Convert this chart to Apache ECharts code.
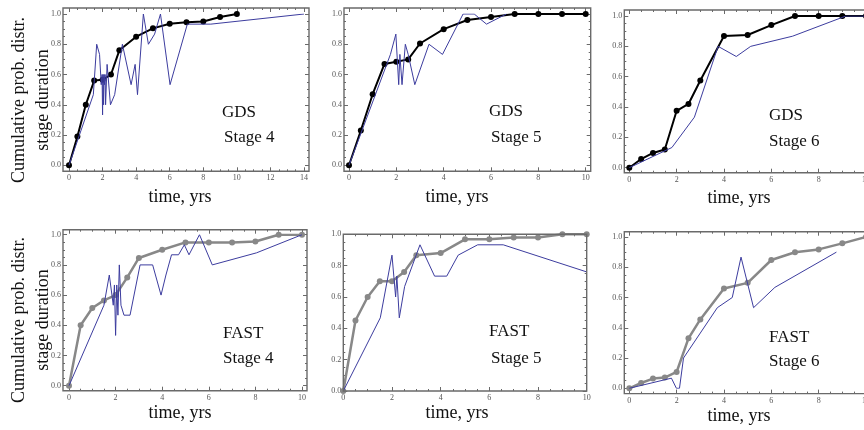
<!DOCTYPE html>
<html>
<head>
<meta charset="utf-8">
<script src="https://cdn.jsdelivr.net/npm/echarts@6/dist/echarts.min.js"></script>
<style>
  html, body { margin: 0; background: #fff; }
  #chart { width: 864px; height: 430px; }
</style>
</head>
<body>
<div id="chart"></div>
<script>
// model curves, sampled every half year up to 3, then yearly
const modelYears = [0, 0.5, 1, 1.5, 2, 2.5, 3, 4, 5, 6, 7, 8, 9, 10];
const gds4Model = [0, 0.19, 0.40, 0.56, 0.565, 0.60, 0.76, 0.85, 0.905, 0.935, 0.945, 0.95, 0.98, 1.0];
const gds5Model = [0, 0.23, 0.47, 0.67, 0.685, 0.70, 0.805, 0.90, 0.96, 0.98, 1.0, 1.0, 1.0, 1.0];
const gds6Model = [0, 0.057, 0.097, 0.12, 0.375, 0.42, 0.575, 0.868, 0.875, 0.94, 1.0, 1.0, 1.0, 1.0];
const fast4Model = [0, 0.40, 0.515, 0.565, 0.60, 0.717, 0.846, 0.90, 0.949, 0.949, 0.949, 0.955, 1.0, 1.0];
const fast5Model = [0, 0.45, 0.60, 0.70, 0.70, 0.76, 0.866, 0.88, 0.968, 0.968, 0.98, 0.98, 1.0, 1.0];
const fast6Model = [0, 0.035, 0.064, 0.071, 0.108, 0.33, 0.455, 0.66, 0.697, 0.848, 0.899, 0.918, 0.958, 1.0];

// observed (empirical) curves
const gds4ObsYears = [0, 1.45, 1.65, 1.82, 1.92, 1.97, 2.0, 2.03, 2.06, 2.09, 2.12, 2.15, 2.18, 2.27, 2.47, 2.72, 3.18, 3.7, 3.94, 4.08, 4.43, 4.73, 5.1, 5.45, 6.02, 7.05, 8.45, 14];
const gds4ObsProb = [0, 0.467, 0.8, 0.733, 0.533, 0.6, 0.333, 0.6, 0.4, 0.6, 0.533, 0.6, 0.4, 0.667, 0.4, 0.467, 0.8, 0.533, 0.667, 0.467, 1.0, 0.8, 0.867, 1.0, 0.533, 0.933, 0.933, 1.0];
const gds5ObsYears = [0, 1.75, 1.98, 2.1, 2.15, 2.24, 2.38, 2.5, 2.78, 3.38, 3.95, 4.82, 5.29, 5.81, 6.65];
const gds5ObsProb = [0, 0.733, 0.867, 0.533, 0.733, 0.533, 0.8, 0.733, 0.533, 0.8, 0.733, 1.0, 1.0, 0.933, 1.0];
const gds6ObsYears = [0, 1.8, 2.75, 3.75, 4.52, 5.13, 6.9, 9.15, 10];
const gds6ObsProb = [0, 0.133, 0.333, 0.8, 0.733, 0.8, 0.867, 1.0, 1.0];
const fast4ObsYears = [0, 1.5, 1.73, 1.9, 1.95, 2.0, 2.05, 2.1, 2.16, 2.23, 2.36, 2.62, 3.05, 3.59, 3.95, 4.16, 4.4, 4.7, 4.95, 5.15, 5.6, 6.15, 8.05, 10];
const fast4ObsProb = [0, 0.533, 0.733, 0.533, 0.667, 0.333, 0.667, 0.467, 0.8, 0.533, 0.467, 0.467, 0.8, 0.8, 0.6, 0.733, 0.867, 0.867, 0.933, 0.867, 1.0, 0.8, 0.88, 1.0];
const fast5ObsYears = [0, 1.52, 2.0, 2.15, 2.2, 2.3, 2.52, 3.15, 3.75, 4.25, 4.72, 5.52, 6.57, 10];
const fast5ObsProb = [0, 0.467, 0.867, 0.6, 0.733, 0.467, 0.667, 0.933, 0.733, 0.733, 0.867, 0.933, 0.933, 0.76];
const fast6ObsYears = [0, 1.78, 1.99, 2.12, 2.29, 3.72, 4.35, 4.72, 5.25, 6.15, 8.75];
const fast6ObsProb = [0, 0.067, 0, 0, 0.2, 0.533, 0.6, 0.867, 0.533, 0.667, 0.9];

const FONT = '"Liberation Serif", "Times New Roman", serif';
const FRAME = '#6a6a6a';
const OBS_COLOR = '#3c3c9e';

// pad = [left, right, top, bottom] gap between data range and frame
const panels = [
  { left: 69, top: 14, width: 235, height: 151.3, pad: [6, 5, 6, 6], xMax: 14,
    model: gds4Model, color: '#000', obsT: gds4ObsYears, obsP: gds4ObsProb,
    study: 'GDS', stage: 'Stage 4', lab: [222, 113, 224, 138], xName: [180, 197] },
  { left: 349, top: 14, width: 236.7, height: 151.3, pad: [5, 5, 6, 6], xMax: 10,
    model: gds5Model, color: '#000', obsT: gds5ObsYears, obsP: gds5ObsProb,
    study: 'GDS', stage: 'Stage 5', lab: [489, 112, 491, 138], xName: [457, 197] },
  { left: 629.3, top: 16, width: 236.7, height: 151.7, pad: [5, 5, 6, 5], xMax: 10,
    model: gds6Model, color: '#000', obsT: gds6ObsYears, obsP: gds6ObsProb,
    study: 'GDS', stage: 'Stage 6', lab: [769, 116, 769, 142], xName: [739, 198] },
  { left: 69, top: 234.7, width: 233, height: 151, pad: [6, 5, 5, 5], xMax: 10,
    model: fast4Model, color: '#888', obsT: fast4ObsYears, obsP: fast4ObsProb,
    study: 'FAST', stage: 'Stage 4', lab: [223, 334, 223, 359], xName: [180, 413] },
  { left: 343.3, top: 234.3, width: 243.4, height: 156.7, pad: [0, 0, 0, 0], xMax: 10,
    model: fast5Model, color: '#888', obsT: fast5ObsYears, obsP: fast5ObsProb,
    study: 'FAST', stage: 'Stage 5', lab: [489, 332, 491, 359], xName: [457, 413] },
  { left: 629.3, top: 237, width: 236.7, height: 151.3, pad: [5, 5, 5.3, 5.3], xMax: 10,
    model: fast6Model, color: '#888', obsT: fast6ObsYears, obsP: fast6ObsProb,
    study: 'FAST', stage: 'Stage 6', lab: [769, 338, 769, 362], xName: [739, 416] }
];

const tickStyle = { inside: true, length: 4, lineStyle: { color: FRAME, width: 1 } };
const minorStyle = { show: true, splitNumber: 4, length: 2, lineStyle: { color: FRAME, width: 1 } };
const labelStyle = { fontSize: 8, color: '#555', fontFamily: FONT };

const grids = [], xAxes = [], yAxes = [], series = [], graphics = [];

panels.forEach((p, i) => {
  grids.push({ left: p.left, top: p.top, width: p.width, height: p.height,
    containLabel: false, outerBoundsMode: 'none' });

  const xBase = {
    gridIndex: i, type: 'value', min: 0, max: p.xMax, interval: 2,
    axisLine: { show: false, onZero: false }, axisTick: tickStyle, minorTick: minorStyle,
    splitLine: { show: false }
  };
  xAxes.push(Object.assign({}, xBase, { position: 'bottom', offset: p.pad[3],
    axisLabel: Object.assign({ margin: 3, hideOverlap: false }, labelStyle) }));
  xAxes.push(Object.assign({}, xBase, { position: 'top', offset: p.pad[2],
    axisLabel: { show: false } }));

  const yBase = {
    gridIndex: i, type: 'value', min: 0, max: 1, interval: 0.2,
    axisLine: { show: false, onZero: false }, axisTick: tickStyle, minorTick: minorStyle,
    splitLine: { show: false }
  };
  yAxes.push(Object.assign({}, yBase, { position: 'left', offset: p.pad[0],
    axisLabel: Object.assign({ margin: 2, formatter: v => v.toFixed(1) }, labelStyle) }));
  yAxes.push(Object.assign({}, yBase, { position: 'right', offset: p.pad[1],
    axisLabel: { show: false } }));

  series.push({
    type: 'line', xAxisIndex: 2 * i, yAxisIndex: 2 * i, z: 2,
    data: modelYears.map((t, k) => [t, p.model[k]]),
    symbol: 'circle', symbolSize: 6, showSymbol: true,
    lineStyle: { color: p.color, width: p.color === '#000' ? 2 : 2.5 },
    itemStyle: { color: p.color }
  });
  series.push({
    type: 'line', xAxisIndex: 2 * i, yAxisIndex: 2 * i, z: 3,
    data: p.obsT.map((t, k) => [t, p.obsP[k]]),
    showSymbol: false, symbol: 'none',
    lineStyle: { color: OBS_COLOR, width: 1 }
  });

  // frame
  graphics.push({
    type: 'rect', z: 10,
    shape: { x: p.left - p.pad[0], y: p.top - p.pad[2],
             width: p.width + p.pad[0] + p.pad[1], height: p.height + p.pad[2] + p.pad[3] },
    style: { fill: 'none', stroke: FRAME, lineWidth: 1.4 }
  });
  // in-plot annotations
  graphics.push({ type: 'text', x: p.lab[0], y: p.lab[1],
    style: { text: p.study, font: '17px ' + FONT, fill: '#111', textAlign: 'left', textVerticalAlign: 'middle' } });
  graphics.push({ type: 'text', x: p.lab[2], y: p.lab[3],
    style: { text: p.stage, font: '17px ' + FONT, fill: '#111', textAlign: 'left', textVerticalAlign: 'middle' } });
  // x axis title
  graphics.push({ type: 'text', x: p.xName[0], y: p.xName[1],
    style: { text: 'time, yrs', font: '18px ' + FONT, fill: '#111', textAlign: 'center', textVerticalAlign: 'middle' } });
});

// y axis titles, one pair per row
[100, 320].forEach(cy => {
  graphics.push({ type: 'text', x: 19, y: cy, rotation: Math.PI / 2,
    style: { text: 'Cumulative prob. distr.', font: '18px ' + FONT, fill: '#111', textAlign: 'center', textVerticalAlign: 'middle' } });
  graphics.push({ type: 'text', x: 43, y: cy, rotation: Math.PI / 2,
    style: { text: 'stage duration', font: '18px ' + FONT, fill: '#111', textAlign: 'center', textVerticalAlign: 'middle' } });
});

const chart = echarts.init(document.getElementById('chart'), null, { renderer: 'canvas' });
chart.setOption({
  animation: false,
  backgroundColor: '#fff',
  grid: grids,
  xAxis: xAxes,
  yAxis: yAxes,
  series: series,
  graphic: graphics
});
</script>
</body>
</html>
